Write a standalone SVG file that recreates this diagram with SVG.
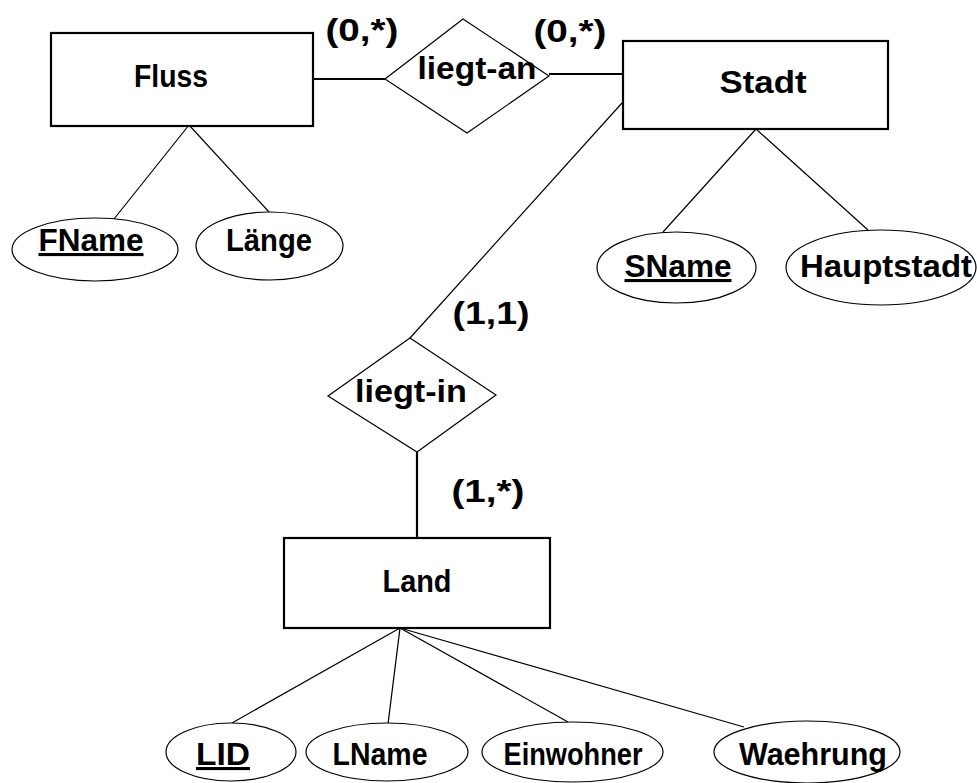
<svg xmlns="http://www.w3.org/2000/svg" width="977" height="783" viewBox="0 0 977 783">
<style>
text{font-family:"Liberation Sans",Arial,sans-serif;font-weight:bold;font-size:31px;fill:#000;text-anchor:middle}
.ent{fill:#fff;stroke:#000;stroke-width:2.2}
.rel{fill:#fff;stroke:#000;stroke-width:1.2}
.att{fill:#fff;stroke:#000;stroke-width:1.2}
.thin{stroke:#000;stroke-width:1.2;fill:none}
.thick{stroke:#000;stroke-width:2.2;fill:none}
.key{text-decoration:underline}
</style>
<rect width="977" height="783" fill="#fff"/>
<g id="connectors">
<line class="thick" x1="313" y1="79" x2="385" y2="79"/>
<line class="thick" x1="549" y1="74" x2="623" y2="74"/>
<line class="thin" x1="622" y1="103" x2="410" y2="338"/>
<line class="thick" x1="417" y1="452" x2="417" y2="538"/>
<line class="thin" x1="189" y1="125" x2="114" y2="219"/>
<line class="thin" x1="189" y1="125" x2="269" y2="212"/>
<line class="thin" x1="756" y1="129" x2="663" y2="232"/>
<line class="thin" x1="756" y1="129" x2="868" y2="230"/>
<line class="thin" x1="400" y1="628" x2="232" y2="723"/>
<line class="thin" x1="400" y1="628" x2="388" y2="724"/>
<line class="thin" x1="400" y1="628" x2="568" y2="722"/>
<line class="thin" x1="400" y1="628" x2="744" y2="727"/>
</g>
<g id="labels">
<text x="362" y="41" textLength="73" lengthAdjust="spacingAndGlyphs">(0,*)</text>
<text x="570" y="42" textLength="73" lengthAdjust="spacingAndGlyphs">(0,*)</text>
<text x="491" y="324" textLength="77" lengthAdjust="spacingAndGlyphs">(1,1)</text>
<text x="488" y="502" textLength="73" lengthAdjust="spacingAndGlyphs">(1,*)</text>
</g>
<g id="Fluss"><rect class="ent" x="51" y="33" width="262" height="93"/><text x="171" y="87" textLength="74" lengthAdjust="spacingAndGlyphs">Fluss</text></g>
<g id="Stadt"><rect class="ent" x="623" y="41" width="265" height="88"/><text x="763" y="93" textLength="87" lengthAdjust="spacingAndGlyphs">Stadt</text></g>
<g id="Land"><rect class="ent" x="284" y="538" width="266" height="90"/><text x="417" y="592" textLength="69" lengthAdjust="spacingAndGlyphs">Land</text></g>
<g id="liegt-an"><polygon class="rel" points="463,19 549,76 467,133 385,79"/><text x="477" y="79" textLength="119" lengthAdjust="spacingAndGlyphs">liegt-an</text></g>
<g id="liegt-in"><polygon class="rel" points="410,338 496,395 417,452 328,396"/><text x="411" y="402" textLength="112" lengthAdjust="spacingAndGlyphs">liegt-in</text></g>
<g id="FName"><ellipse class="att" cx="95" cy="249.5" rx="83" ry="31.5"/><text class="key" x="91" y="251" textLength="105" lengthAdjust="spacingAndGlyphs">FName</text></g>
<g id="Laenge"><ellipse class="att" cx="269.5" cy="246" rx="73.5" ry="34"/><text x="269" y="251" textLength="86" lengthAdjust="spacingAndGlyphs">Länge</text></g>
<g id="SName"><ellipse class="att" cx="676.5" cy="267.5" rx="79.5" ry="35.5"/><text class="key" x="678" y="277" textLength="107" lengthAdjust="spacingAndGlyphs">SName</text></g>
<g id="Hauptstadt"><ellipse class="att" cx="881" cy="267.5" rx="95" ry="37.5"/><text x="886" y="277" textLength="172" lengthAdjust="spacingAndGlyphs">Hauptstadt</text></g>
<g id="LID"><ellipse class="att" cx="231" cy="752" rx="65" ry="29"/><text class="key" x="223" y="765" textLength="54" lengthAdjust="spacingAndGlyphs">LID</text></g>
<g id="LName"><ellipse class="att" cx="387" cy="752" rx="81" ry="29"/><text x="380" y="765" textLength="95" lengthAdjust="spacingAndGlyphs">LName</text></g>
<g id="Einwohner"><ellipse class="att" cx="572.5" cy="752" rx="90.5" ry="30"/><text x="573" y="765" textLength="139" lengthAdjust="spacingAndGlyphs">Einwohner</text></g>
<g id="Waehrung"><ellipse class="att" cx="807" cy="752" rx="93" ry="31"/><text x="813" y="765" textLength="148" lengthAdjust="spacingAndGlyphs">Waehrung</text></g>
</svg>
